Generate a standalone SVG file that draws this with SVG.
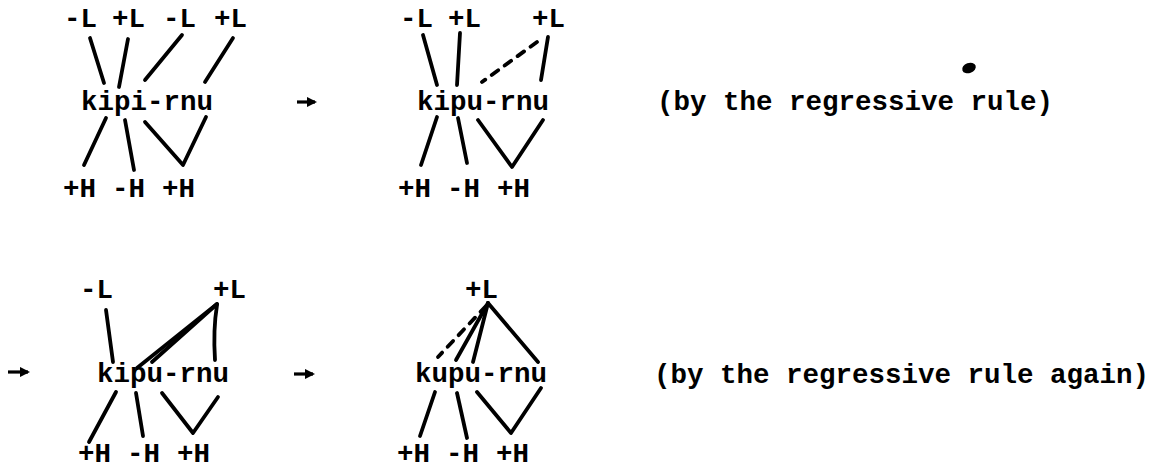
<svg xmlns="http://www.w3.org/2000/svg" width="1168" height="471" viewBox="0 0 1168 471">
<defs>
<style>
.t{font-family:"Liberation Mono","DejaVu Sans Mono",monospace;font-size:27.5px;font-weight:bold;fill:#000}
.l{stroke:#000;stroke-width:3.8;stroke-linecap:round;stroke-linejoin:round;fill:none}
.d{stroke:#000;stroke-width:3.8;stroke-linecap:round;fill:none;stroke-dasharray:8 8}
.a{stroke:#000;stroke-width:3.2;fill:none}
</style>
<marker id="ah" viewBox="0 0 10 10" refX="8" refY="5" markerWidth="3.2" markerHeight="3.2" orient="auto" markerUnits="strokeWidth">
<path d="M0,0 L10,5 L0,10 Z" fill="#000"/>
</marker>
</defs>
<rect width="1168" height="471" fill="#fff"/>

<!-- Diagram 1 -->
<g id="d1-L1"><text class="t" x="64" y="27">-L</text></g>
<g id="d1-L2"><text class="t" x="112" y="27">+L</text></g>
<g id="d1-L3"><text class="t" x="163" y="27">-L</text></g>
<g id="d1-L4"><text class="t" x="214" y="27">+L</text></g>
<g id="d1-word"><text class="t" x="81" y="110">kipi-rnu</text></g>
<g id="d1-H1"><text class="t" x="63" y="197">+H</text></g>
<g id="d1-H2"><text class="t" x="112" y="197">-H</text></g>
<g id="d1-H3"><text class="t" x="162" y="197">+H</text></g>

<!-- Diagram 2 -->
<g id="d2-L1"><text class="t" x="400" y="27">-L</text></g>
<g id="d2-L2"><text class="t" x="448" y="27">+L</text></g>
<g id="d2-L3"><text class="t" x="532" y="27">+L</text></g>
<g id="d2-word"><text class="t" x="417" y="110">kipu-rnu</text></g>
<g id="d2-H1"><text class="t" x="398" y="197">+H</text></g>
<g id="d2-H2"><text class="t" x="447" y="197">-H</text></g>
<g id="d2-H3"><text class="t" x="497" y="197">+H</text></g>
<g id="note1"><text class="t" x="657" y="110">(by the regressive rule)</text></g>

<!-- Diagram 3 -->
<g id="d3-L1"><text class="t" x="80" y="298">-L</text></g>
<g id="d3-L2"><text class="t" x="213" y="298">+L</text></g>
<g id="d3-word"><text class="t" x="97" y="382">kipu-rnu</text></g>
<g id="d3-H1"><text class="t" x="78" y="462">+H</text></g>
<g id="d3-H2"><text class="t" x="127" y="462">-H</text></g>
<g id="d3-H3"><text class="t" x="177" y="462">+H</text></g>

<!-- Diagram 4 -->
<g id="d4-L1"><text class="t" x="465" y="298">+L</text></g>
<g id="d4-word"><text class="t" x="415" y="382">kupu-rnu</text></g>
<g id="d4-H1"><text class="t" x="397" y="462">+H</text></g>
<g id="d4-H2"><text class="t" x="446" y="462">-H</text></g>
<g id="d4-H3"><text class="t" x="496" y="462">+H</text></g>
<g id="note2"><text class="t" x="654" y="383">(by the regressive rule again)</text></g>

<ellipse cx="969" cy="68" rx="7" ry="5" transform="rotate(-20 969 68)" fill="#000"/>

<g id="connectors">
<!-- d1 -->
<line class="l" x1="90" y1="38" x2="104" y2="83"/>
<line class="l" x1="128" y1="39" x2="119" y2="87"/>
<line class="l" x1="182" y1="35" x2="145" y2="80"/>
<line class="l" x1="233" y1="38" x2="205" y2="82"/>
<line class="l" x1="106" y1="118" x2="84" y2="165"/>
<line class="l" x1="125" y1="120" x2="134" y2="170"/>
<polyline class="l" points="145,122 183,165 206,117"/>
<!-- d2 -->
<line class="l" x1="423" y1="35" x2="437" y2="85"/>
<line class="l" x1="460" y1="33" x2="457" y2="85"/>
<line class="d" x1="537" y1="42" x2="482" y2="82"/>
<line class="l" x1="548" y1="37" x2="541" y2="80"/>
<line class="l" x1="437" y1="117" x2="421" y2="165"/>
<line class="l" x1="458" y1="118" x2="467" y2="163"/>
<polyline class="l" points="478,120 512,167 543,120"/>
<!-- d3 -->
<line class="l" x1="106" y1="310" x2="113" y2="362"/>
<path class="l" d="M217,305 Q213,330 215,360"/>
<line class="l" x1="217" y1="304" x2="137" y2="368"/>
<line class="l" x1="217" y1="304" x2="152" y2="362"/>
<line class="l" x1="116" y1="392" x2="89" y2="442"/>
<line class="l" x1="136" y1="393" x2="143" y2="436"/>
<polyline class="l" points="162,393 193,433 218,397"/>
<!-- d4 -->
<line class="d" x1="486" y1="306" x2="438" y2="357"/>
<line class="l" x1="488" y1="303" x2="456" y2="360"/>
<line class="l" x1="488" y1="303" x2="473" y2="362"/>
<path class="l" d="M488,303 Q515,335 538,362"/>
<line class="l" x1="435" y1="392" x2="420" y2="436"/>
<line class="l" x1="457" y1="393" x2="467" y2="438"/>
<polyline class="l" points="477,392 511,433 541,388"/>
<!-- derivation arrows -->
<line class="a" x1="297" y1="102" x2="315" y2="102" marker-end="url(#ah)"/>
<line class="a" x1="8" y1="372" x2="28" y2="372" marker-end="url(#ah)"/>
<line class="a" x1="294" y1="374" x2="313" y2="374" marker-end="url(#ah)"/>
</g>
</svg>
